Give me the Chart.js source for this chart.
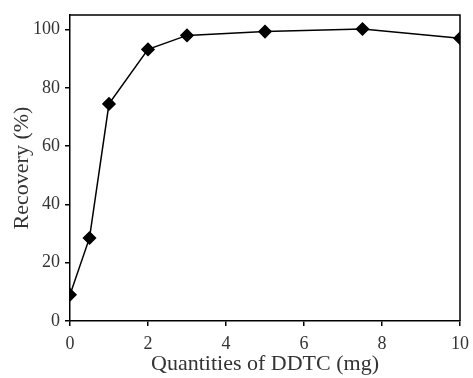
<!DOCTYPE html>
<html lang="en">
<head>
  <meta charset="UTF-8">
  <title>Recovery vs DDTC</title>
  <script src="https://cdn.jsdelivr.net/npm/chart.js@4.4.0/dist/chart.umd.min.js"></script>
  <style>
    body { margin: 0; padding: 0; background: #fff; }
    #wrap { width: 473px; height: 378px; position: relative; }
  </style>
</head>
<body>
  <div id="wrap"><canvas id="recChart"></canvas></div>
  <script>
    // values
    const ddtcMg = [0, 0.5, 1, 2, 3, 5, 7.5, 10];
    const recovery = [9, 28.5, 74.5, 93.2, 98, 99.3, 100.2, 97];
    const xTicks = [0, 2, 4, 6, 8, 10];
    const yTicks = [0, 20, 40, 60, 80, 100];

    const serif = '"Liberation Serif", "DejaVu Serif", serif';
    const textColor = '#333';

    // top and right edges of the plot frame
    const frame = {
      id: 'frame',
      afterDraw(chart) {
        const a = chart.chartArea;
        const c = chart.ctx;
        c.save();
        c.strokeStyle = '#000';
        c.lineWidth = 1.5;
        c.beginPath();
        c.moveTo(a.left, a.top);
        c.lineTo(a.right, a.top);
        c.lineTo(a.right, a.bottom);
        c.stroke();
        c.restore();
      }
    };

    const ctx = document.getElementById('recChart').getContext('2d');
    new Chart(ctx, {
      type: 'line',
      data: {
        datasets: [{
          data: ddtcMg.map((x, i) => ({ x: x, y: recovery[i] })),
          borderColor: '#000',
          borderWidth: 1.5,
          pointStyle: 'rectRot',
          pointRadius: 6,
          pointBackgroundColor: '#000',
          pointBorderColor: '#000',
          tension: 0,
          fill: false
        }]
      },
      options: {
        responsive: true,
        maintainAspectRatio: false,
        animation: false,
        layout: { padding: { top: 15, right: 13, left: 0, bottom: 0 } },
        plugins: { legend: { display: false }, tooltip: { enabled: false } },
        scales: {
          x: {
            type: 'linear',
            min: 0,
            max: 10,
            afterBuildTicks: s => { s.ticks = xTicks.map(v => ({ value: v })); },
            afterFit: s => { s.height = 57; s.paddingRight = 0; s.paddingLeft = 0; },
            grid: { drawOnChartArea: false, drawTicks: true, tickLength: 5, color: '#000', lineWidth: 1.5 },
            border: { display: true, color: '#000', width: 1.5 },
            ticks: { color: textColor, font: { family: serif, size: 18 }, padding: 7, maxRotation: 0 },
            title: {
              display: true,
              text: 'Quantities of DDTC (mg)',
              color: textColor,
              font: { family: serif, size: 22 },
              padding: { top: 0, bottom: 1 }
            }
          },
          y: {
            min: 0,
            max: 105,
            afterBuildTicks: s => { s.ticks = yTicks.map(v => ({ value: v })); },
            afterFit: s => { s.width = 70; s.paddingTop = 0; s.paddingBottom = 0; },
            grid: { drawOnChartArea: false, drawTicks: true, tickLength: 5, color: '#000', lineWidth: 1.5 },
            border: { display: true, color: '#000', width: 1.5 },
            ticks: { color: textColor, font: { family: serif, size: 18 }, padding: 5 },
            title: {
              display: true,
              text: 'Recovery (%)',
              color: textColor,
              font: { family: serif, size: 22 },
              padding: { top: 9, bottom: 0 }
            }
          }
        }
      },
      plugins: [frame]
    });
  </script>
</body>
</html>
